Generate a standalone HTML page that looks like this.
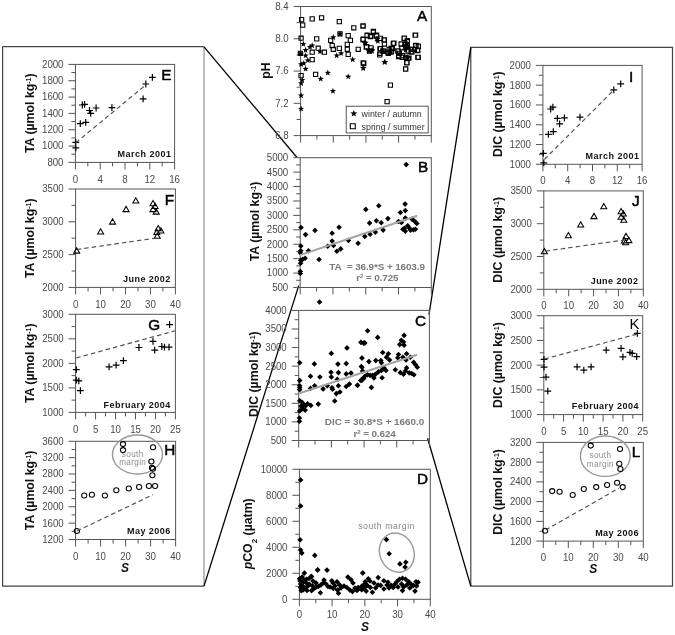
<!DOCTYPE html>
<html><head><meta charset="utf-8"><style>
html,body{margin:0;padding:0;background:#fff;}
svg{display:block;will-change:transform;}
text{font-family:"Liberation Sans", sans-serif;}
.tk{font-size:9.7px;fill:#4a4a4a;letter-spacing:-0.05px;}
.pl{fill:#000;stroke:#000;stroke-width:0.5px;}
.pk{font-size:14.8px;fill:#000;}
.dt{font-size:9px;font-weight:bold;fill:#111;letter-spacing:0.48px;}
.yt{font-weight:bold;fill:#111;}
.sm{font-size:8.2px;fill:#8c8c8c;letter-spacing:0.35px;}
.sm2{font-size:8.7px;fill:#888;letter-spacing:0.55px;}
.eq{font-size:9.9px;fill:#7a7a7a;font-weight:bold;letter-spacing:-0.1px;}
.lg{font-size:8.8px;fill:#333;}
.S{font-size:12px;font-weight:bold;font-style:italic;fill:#111;}
</style></head><body>
<svg width="675" height="635" viewBox="0 0 675 635">
<rect width="675" height="635" fill="#fff"/>
<path d="M2.6 46.6H204" stroke="#444" stroke-width="1.2" fill="none"/>
<path d="M2.6 46.6V586.1H204" stroke="#444" stroke-width="1.2" fill="none"/>
<path d="M204 46.6V586.1" stroke="#888" stroke-width="1.1" fill="none"/>
<path d="M470.8 47.4H672.5V586.1H470.8Z" stroke="#444" stroke-width="1.2" fill="none"/>
<path d="M204 46.8L297 157.5M204 586.1L298.7 285.6M470.8 47.4L429.0 314.6M470.8 586.1L427.6 438.3" stroke="#000" stroke-width="1.3" fill="none"/>
<rect x="75.4" y="64.4" width="99.19999999999999" height="98.0" fill="none" stroke="#555" stroke-width="1"/>
<text transform="translate(63.40,165.80) scale(1,1.12)" text-anchor="end" class="tk">800</text>
<text transform="translate(63.40,149.47) scale(1,1.12)" text-anchor="end" class="tk">1000</text>
<text transform="translate(63.40,133.13) scale(1,1.12)" text-anchor="end" class="tk">1200</text>
<text transform="translate(63.40,116.80) scale(1,1.12)" text-anchor="end" class="tk">1400</text>
<text transform="translate(63.40,100.47) scale(1,1.12)" text-anchor="end" class="tk">1600</text>
<text transform="translate(63.40,84.13) scale(1,1.12)" text-anchor="end" class="tk">1800</text>
<text transform="translate(63.40,67.80) scale(1,1.12)" text-anchor="end" class="tk">2000</text>
<text transform="translate(75.40,182.50) scale(1,1.12)" text-anchor="middle" class="tk">0</text>
<text transform="translate(100.20,182.50) scale(1,1.12)" text-anchor="middle" class="tk">4</text>
<text transform="translate(125.00,182.50) scale(1,1.12)" text-anchor="middle" class="tk">8</text>
<text transform="translate(149.80,182.50) scale(1,1.12)" text-anchor="middle" class="tk">12</text>
<text transform="translate(174.60,182.50) scale(1,1.12)" text-anchor="middle" class="tk">16</text>
<path d="M68.40 162.40H75.4 M71.40 154.23H75.4 M68.40 146.07H75.4 M71.40 137.90H75.4 M68.40 129.73H75.4 M71.40 121.57H75.4 M68.40 113.40H75.4 M71.40 105.23H75.4 M68.40 97.07H75.4 M71.40 88.90H75.4 M68.40 80.73H75.4 M71.40 72.57H75.4 M68.40 64.40H75.4 M75.40 162.4V169.4 M87.80 162.4V166.4 M100.20 162.4V169.4 M112.60 162.4V166.4 M125.00 162.4V169.4 M137.40 162.4V166.4 M149.80 162.4V169.4 M162.20 162.4V166.4 M174.60 162.4V169.4" stroke="#555" stroke-width="1" fill="none"/>
<path d="M72.4 142.4H79.2M75.8 139.0V145.8M72.4 147.8H79.2M75.8 144.4V151.2M76.9 123.7H83.7M80.3 120.3V127.1M82.3 122.4H89.1M85.7 119.0V125.8M79.0 105.0H85.8M82.4 101.6V108.4M81.2 104.3H88.0M84.6 100.9V107.7M86.1 110.5H92.9M89.5 107.1V113.9M87.3 113.3H94.1M90.7 109.9V116.7M92.7 108.0H99.5M96.1 104.6V111.4M108.5 107.6H115.3M111.9 104.2V111.0M139.7 98.9H146.5M143.1 95.5V102.3M142.4 84.0H149.2M145.8 80.6V87.4M149.0 77.4H155.8M152.4 74.0V80.8" stroke="#000" stroke-width="1.2" fill="none"/>
<line x1="75.8" y1="142.7" x2="146" y2="84.8" stroke="#505050" stroke-width="1.15" stroke-dasharray="4.5,3.1"/>
<text x="161.3" y="79.8" class="pl" style="font-size:15.3px">E</text>
<text x="171.39999999999998" y="157" text-anchor="end" class="dt">March 2001</text>
<text transform="translate(34.4,113.2) rotate(-90)" text-anchor="middle" class="yt" style="font-size:12.3px">TA (µmol kg<tspan baseline-shift="super" font-size="7">-1</tspan>)</text>
<rect x="75.6" y="189.0" width="99.80000000000001" height="98.39999999999998" fill="none" stroke="#555" stroke-width="1"/>
<text transform="translate(63.60,290.80) scale(1,1.12)" text-anchor="end" class="tk">2000</text>
<text transform="translate(63.60,258.00) scale(1,1.12)" text-anchor="end" class="tk">2500</text>
<text transform="translate(63.60,225.20) scale(1,1.12)" text-anchor="end" class="tk">3000</text>
<text transform="translate(63.60,192.40) scale(1,1.12)" text-anchor="end" class="tk">3500</text>
<text transform="translate(75.60,307.50) scale(1,1.12)" text-anchor="middle" class="tk">0</text>
<text transform="translate(100.55,307.50) scale(1,1.12)" text-anchor="middle" class="tk">10</text>
<text transform="translate(125.50,307.50) scale(1,1.12)" text-anchor="middle" class="tk">20</text>
<text transform="translate(150.45,307.50) scale(1,1.12)" text-anchor="middle" class="tk">30</text>
<text transform="translate(175.40,307.50) scale(1,1.12)" text-anchor="middle" class="tk">40</text>
<path d="M68.60 287.40H75.6 M71.60 271.00H75.6 M68.60 254.60H75.6 M71.60 238.20H75.6 M68.60 221.80H75.6 M71.60 205.40H75.6 M68.60 189.00H75.6 M75.60 287.4V294.4 M88.07 287.4V291.4 M100.55 287.4V294.4 M113.03 287.4V291.4 M125.50 287.4V294.4 M137.97 287.4V291.4 M150.45 287.4V294.4 M162.93 287.4V291.4 M175.40 287.4V294.4" stroke="#555" stroke-width="1" fill="none"/>
<path d="M73.7 253.1L76.7 247.9L79.7 253.1ZM97.6 234.0L100.6 228.8L103.6 234.0ZM109.6 224.1L112.6 218.9L115.6 224.1ZM123.1 211.6L126.1 206.4L129.1 211.6ZM132.8 202.9L135.8 197.7L138.8 202.9ZM150.0 205.8L153.0 200.6L156.0 205.8ZM152.1 208.5L155.1 203.3L158.1 208.5ZM150.0 211.6L153.0 206.4L156.0 211.6ZM153.2 214.1L156.2 208.9L159.2 214.1ZM155.2 230.7L158.2 225.5L161.2 230.7ZM157.9 233.0L160.9 227.8L163.9 233.0ZM153.8 234.5L156.8 229.3L159.8 234.5ZM154.2 238.2L157.2 233.0L160.2 238.2Z" stroke="#000" stroke-width="1.05" fill="none"/>
<line x1="76.7" y1="249.5" x2="156.2" y2="238" stroke="#505050" stroke-width="1.15" stroke-dasharray="4.5,3.1"/>
<text x="164.8" y="204.5" class="pl" style="font-size:15.3px">F</text>
<text x="170.79999999999998" y="282" text-anchor="end" class="dt">June 2002</text>
<text transform="translate(34.4,238.3) rotate(-90)" text-anchor="middle" class="yt" style="font-size:12.3px">TA (µmol kg<tspan baseline-shift="super" font-size="7">-1</tspan>)</text>
<rect x="75.6" y="314.3" width="99.80000000000001" height="98.09999999999997" fill="none" stroke="#555" stroke-width="1"/>
<text transform="translate(63.60,415.80) scale(1,1.12)" text-anchor="end" class="tk">1000</text>
<text transform="translate(63.60,391.27) scale(1,1.12)" text-anchor="end" class="tk">1500</text>
<text transform="translate(63.60,366.75) scale(1,1.12)" text-anchor="end" class="tk">2000</text>
<text transform="translate(63.60,342.22) scale(1,1.12)" text-anchor="end" class="tk">2500</text>
<text transform="translate(63.60,317.70) scale(1,1.12)" text-anchor="end" class="tk">3000</text>
<text transform="translate(75.60,432.50) scale(1,1.12)" text-anchor="middle" class="tk">0</text>
<text transform="translate(95.56,432.50) scale(1,1.12)" text-anchor="middle" class="tk">5</text>
<text transform="translate(115.52,432.50) scale(1,1.12)" text-anchor="middle" class="tk">10</text>
<text transform="translate(135.48,432.50) scale(1,1.12)" text-anchor="middle" class="tk">15</text>
<text transform="translate(155.44,432.50) scale(1,1.12)" text-anchor="middle" class="tk">20</text>
<text transform="translate(175.40,432.50) scale(1,1.12)" text-anchor="middle" class="tk">25</text>
<path d="M68.60 412.40H75.6 M71.60 400.14H75.6 M68.60 387.88H75.6 M71.60 375.61H75.6 M68.60 363.35H75.6 M71.60 351.09H75.6 M68.60 338.82H75.6 M71.60 326.56H75.6 M68.60 314.30H75.6 M75.60 412.4V419.4 M85.58 412.4V416.4 M95.56 412.4V419.4 M105.54 412.4V416.4 M115.52 412.4V419.4 M125.50 412.4V416.4 M135.48 412.4V419.4 M145.46 412.4V416.4 M155.44 412.4V419.4 M165.42 412.4V416.4 M175.40 412.4V419.4" stroke="#555" stroke-width="1" fill="none"/>
<path d="M72.9 369.7H79.7M76.3 366.3V373.1M72.9 380.1H79.7M76.3 376.7V383.5M75.4 380.9H82.2M78.8 377.5V384.3M77.0 390.7H83.8M80.4 387.3V394.1M105.7 366.8H112.5M109.1 363.4V370.2M112.7 365.2H119.5M116.1 361.8V368.6M120.0 360.6H126.8M123.4 357.2V364.0M135.5 347.5H142.3M138.9 344.1V350.9M149.6 341.3H156.4M153.0 337.9V344.7M151.3 350.2H158.1M154.7 346.8V353.6M158.4 346.5H165.2M161.8 343.1V349.9M161.1 347.1H167.9M164.5 343.7V350.5M165.6 347.1H172.4M169.0 343.7V350.5M166.2 324.7H173.0M169.6 321.3V328.1" stroke="#000" stroke-width="1.2" fill="none"/>
<line x1="76.3" y1="357.9" x2="174.8" y2="330.9" stroke="#505050" stroke-width="1.15" stroke-dasharray="4.5,3.1"/>
<text x="148.2" y="329.5" class="pl" style="font-size:15.3px">G</text>
<text x="170.79999999999998" y="408" text-anchor="end" class="dt">February 2004</text>
<text transform="translate(34.4,363.3) rotate(-90)" text-anchor="middle" class="yt" style="font-size:12.3px">TA (µmol kg<tspan baseline-shift="super" font-size="7">-1</tspan>)</text>
<rect x="75.6" y="441.3" width="100.0" height="98.19999999999999" fill="none" stroke="#555" stroke-width="1"/>
<text transform="translate(63.60,542.90) scale(1,1.12)" text-anchor="end" class="tk">1200</text>
<text transform="translate(63.60,526.53) scale(1,1.12)" text-anchor="end" class="tk">1600</text>
<text transform="translate(63.60,510.17) scale(1,1.12)" text-anchor="end" class="tk">2000</text>
<text transform="translate(63.60,493.80) scale(1,1.12)" text-anchor="end" class="tk">2400</text>
<text transform="translate(63.60,477.43) scale(1,1.12)" text-anchor="end" class="tk">2800</text>
<text transform="translate(63.60,461.07) scale(1,1.12)" text-anchor="end" class="tk">3200</text>
<text transform="translate(63.60,444.70) scale(1,1.12)" text-anchor="end" class="tk">3600</text>
<text transform="translate(75.60,559.60) scale(1,1.12)" text-anchor="middle" class="tk">0</text>
<text transform="translate(100.60,559.60) scale(1,1.12)" text-anchor="middle" class="tk">10</text>
<text transform="translate(125.60,559.60) scale(1,1.12)" text-anchor="middle" class="tk">20</text>
<text transform="translate(150.60,559.60) scale(1,1.12)" text-anchor="middle" class="tk">30</text>
<text transform="translate(175.60,559.60) scale(1,1.12)" text-anchor="middle" class="tk">40</text>
<path d="M68.60 539.50H75.6 M71.60 531.32H75.6 M68.60 523.13H75.6 M71.60 514.95H75.6 M68.60 506.77H75.6 M71.60 498.58H75.6 M68.60 490.40H75.6 M71.60 482.22H75.6 M68.60 474.03H75.6 M71.60 465.85H75.6 M68.60 457.67H75.6 M71.60 449.48H75.6 M68.60 441.30H75.6 M75.60 539.5V546.5 M88.10 539.5V543.5 M100.60 539.5V546.5 M113.10 539.5V543.5 M125.60 539.5V546.5 M138.10 539.5V543.5 M150.60 539.5V546.5 M163.10 539.5V543.5 M175.60 539.5V546.5" stroke="#555" stroke-width="1" fill="none"/>
<ellipse cx="137.5" cy="454.5" rx="25" ry="19.5" stroke="#999" stroke-width="1.4" fill="none"/>
<text x="132.7" y="456.8" text-anchor="middle" class="sm">south</text>
<text x="132.7" y="465.4" text-anchor="middle" class="sm">margin</text>
<ellipse cx="76.9" cy="531" rx="2.6" ry="2.5" stroke="#000" stroke-width="1.05" fill="none"/>
<ellipse cx="84.2" cy="495.5" rx="2.6" ry="2.5" stroke="#000" stroke-width="1.05" fill="none"/>
<ellipse cx="91.9" cy="494.7" rx="2.6" ry="2.5" stroke="#000" stroke-width="1.05" fill="none"/>
<ellipse cx="104.9" cy="495.5" rx="2.6" ry="2.5" stroke="#000" stroke-width="1.05" fill="none"/>
<ellipse cx="116.3" cy="490.2" rx="2.6" ry="2.5" stroke="#000" stroke-width="1.05" fill="none"/>
<ellipse cx="128.8" cy="488.5" rx="2.6" ry="2.5" stroke="#000" stroke-width="1.05" fill="none"/>
<ellipse cx="139.1" cy="487" rx="2.6" ry="2.5" stroke="#000" stroke-width="1.05" fill="none"/>
<ellipse cx="148.9" cy="486" rx="2.6" ry="2.5" stroke="#000" stroke-width="1.05" fill="none"/>
<ellipse cx="155.1" cy="486" rx="2.6" ry="2.5" stroke="#000" stroke-width="1.05" fill="none"/>
<ellipse cx="123" cy="444.1" rx="2.6" ry="2.5" stroke="#000" stroke-width="1.05" fill="none"/>
<ellipse cx="123" cy="450.1" rx="2.6" ry="2.5" stroke="#000" stroke-width="1.05" fill="none"/>
<ellipse cx="153" cy="447.2" rx="2.6" ry="2.5" stroke="#000" stroke-width="1.05" fill="none"/>
<ellipse cx="151.4" cy="461.5" rx="2.6" ry="2.5" stroke="#000" stroke-width="1.05" fill="none"/>
<ellipse cx="152" cy="467.8" rx="2.6" ry="2.5" stroke="#000" stroke-width="1.05" fill="none"/>
<ellipse cx="153" cy="468.8" rx="2.6" ry="2.5" stroke="#000" stroke-width="1.05" fill="none"/>
<ellipse cx="152.4" cy="475.2" rx="2.6" ry="2.5" stroke="#000" stroke-width="1.05" fill="none"/>
<line x1="76.9" y1="531" x2="153" y2="494.7" stroke="#505050" stroke-width="1.15" stroke-dasharray="4.5,3.1"/>
<text x="164.2" y="454.8" class="pl" style="font-size:15.3px">H</text>
<text x="170.79999999999998" y="534.1" text-anchor="end" class="dt">May 2006</text>
<text transform="translate(34.4,490.4) rotate(-90)" text-anchor="middle" class="yt" style="font-size:12.3px">TA (µmol kg<tspan baseline-shift="super" font-size="7">-1</tspan>)</text>
<text x="125" y="571.5" text-anchor="middle" class="S">S</text>
<rect x="300.6" y="6.5" width="130.7" height="129.1" fill="none" stroke="#555" stroke-width="1"/>
<text transform="translate(288.60,139.00) scale(1,1.12)" text-anchor="end" class="tk">6.8</text>
<text transform="translate(288.60,106.72) scale(1,1.12)" text-anchor="end" class="tk">7.2</text>
<text transform="translate(288.60,74.45) scale(1,1.12)" text-anchor="end" class="tk">7.6</text>
<text transform="translate(288.60,42.18) scale(1,1.12)" text-anchor="end" class="tk">8.0</text>
<text transform="translate(288.60,9.90) scale(1,1.12)" text-anchor="end" class="tk">8.4</text>
<path d="M293.60 135.60H300.6 M296.60 119.46H300.6 M293.60 103.32H300.6 M296.60 87.19H300.6 M293.60 71.05H300.6 M296.60 54.91H300.6 M293.60 38.78H300.6 M296.60 22.64H300.6 M293.60 6.50H300.6 M300.60 135.6V142.6 M316.94 135.6V139.6 M333.28 135.6V142.6 M349.61 135.6V139.6 M365.95 135.6V142.6 M382.29 135.6V139.6 M398.62 135.6V142.6 M414.96 135.6V139.6 M431.30 135.6V142.6" stroke="#555" stroke-width="1" fill="none"/>
<path d="M299.5 17.5h4.2v4.2h-4.2ZM300.6 23.0h4.2v4.2h-4.2ZM310.1 16.8h4.2v4.2h-4.2ZM319.5 15.7h4.2v4.2h-4.2ZM337.2 19.5h4.2v4.2h-4.2ZM351.7 25.7h4.2v4.2h-4.2ZM360.8 24.1h4.2v4.2h-4.2ZM299.0 36.1h4.2v4.2h-4.2ZM314.6 36.8h4.2v4.2h-4.2ZM337.9 31.7h4.2v4.2h-4.2ZM346.1 33.5h4.2v4.2h-4.2ZM348.3 38.3h4.2v4.2h-4.2ZM328.6 38.3h4.2v4.2h-4.2ZM330.1 43.5h4.2v4.2h-4.2ZM331.2 47.2h4.2v4.2h-4.2ZM316.1 46.1h4.2v4.2h-4.2ZM310.1 50.1h4.2v4.2h-4.2ZM322.3 50.1h4.2v4.2h-4.2ZM337.2 46.3h4.2v4.2h-4.2ZM345.2 42.3h4.2v4.2h-4.2ZM345.2 47.2h4.2v4.2h-4.2ZM346.1 52.3h4.2v4.2h-4.2ZM356.1 47.2h4.2v4.2h-4.2ZM360.8 37.5h4.2v4.2h-4.2ZM365.0 33.5h4.2v4.2h-4.2ZM368.3 34.6h4.2v4.2h-4.2ZM371.2 30.1h4.2v4.2h-4.2ZM374.6 33.9h4.2v4.2h-4.2ZM364.6 44.6h4.2v4.2h-4.2ZM369.0 45.7h4.2v4.2h-4.2ZM377.9 46.8h4.2v4.2h-4.2ZM381.9 37.9h4.2v4.2h-4.2ZM382.3 41.9h4.2v4.2h-4.2ZM377.9 51.2h4.2v4.2h-4.2ZM381.2 49.0h4.2v4.2h-4.2ZM385.7 50.1h4.2v4.2h-4.2ZM389.0 46.3h4.2v4.2h-4.2ZM391.2 41.2h4.2v4.2h-4.2ZM396.1 49.0h4.2v4.2h-4.2ZM396.8 53.5h4.2v4.2h-4.2ZM399.0 41.9h4.2v4.2h-4.2ZM402.3 36.1h4.2v4.2h-4.2ZM403.5 42.3h4.2v4.2h-4.2ZM405.2 39.7h4.2v4.2h-4.2ZM400.1 55.2h4.2v4.2h-4.2ZM406.1 56.1h4.2v4.2h-4.2ZM404.6 60.6h4.2v4.2h-4.2ZM403.5 66.8h4.2v4.2h-4.2ZM409.0 50.1h4.2v4.2h-4.2ZM413.5 33.0h4.2v4.2h-4.2ZM413.5 43.5h4.2v4.2h-4.2ZM415.7 48.6h4.2v4.2h-4.2ZM416.3 44.1h4.2v4.2h-4.2ZM415.7 55.2h4.2v4.2h-4.2ZM310.1 57.5h4.2v4.2h-4.2ZM313.5 72.3h4.2v4.2h-4.2ZM299.0 73.5h4.2v4.2h-4.2ZM361.7 61.2h4.2v4.2h-4.2ZM388.3 83.0h4.2v4.2h-4.2ZM385.0 99.5h4.2v4.2h-4.2ZM298.3 51.2h4.2v4.2h-4.2ZM402.0 36.3h4.2v4.2h-4.2ZM405.2 38.6h4.2v4.2h-4.2ZM402.8 41.8h4.2v4.2h-4.2ZM405.2 43.4h4.2v4.2h-4.2ZM399.7 45.7h4.2v4.2h-4.2ZM395.7 48.9h4.2v4.2h-4.2ZM397.3 51.3h4.2v4.2h-4.2ZM396.5 54.4h4.2v4.2h-4.2ZM400.5 53.6h4.2v4.2h-4.2ZM403.6 55.2h4.2v4.2h-4.2ZM406.8 56.0h4.2v4.2h-4.2ZM406.0 48.9h4.2v4.2h-4.2ZM409.9 49.7h4.2v4.2h-4.2ZM412.3 47.3h4.2v4.2h-4.2ZM413.9 43.4h4.2v4.2h-4.2ZM416.2 44.2h4.2v4.2h-4.2ZM415.4 48.1h4.2v4.2h-4.2ZM416.2 55.2h4.2v4.2h-4.2ZM413.1 33.1h4.2v4.2h-4.2ZM404.9 60.7h4.2v4.2h-4.2ZM403.6 67.0h4.2v4.2h-4.2ZM409.1 47.3h4.2v4.2h-4.2ZM391.8 41.0h4.2v4.2h-4.2ZM378.4 46.5h4.2v4.2h-4.2ZM377.6 52.8h4.2v4.2h-4.2ZM380.8 48.9h4.2v4.2h-4.2ZM382.3 41.8h4.2v4.2h-4.2ZM382.3 37.9h4.2v4.2h-4.2ZM387.1 47.3h4.2v4.2h-4.2ZM389.4 49.7h4.2v4.2h-4.2ZM386.3 51.3h4.2v4.2h-4.2ZM390.2 46.5h4.2v4.2h-4.2ZM361.1 37.1h4.2v4.2h-4.2ZM365.0 33.1h4.2v4.2h-4.2ZM371.3 29.2h4.2v4.2h-4.2ZM368.9 33.9h4.2v4.2h-4.2ZM374.5 33.1h4.2v4.2h-4.2ZM364.2 44.9h4.2v4.2h-4.2ZM367.4 48.9h4.2v4.2h-4.2ZM378.4 36.3h4.2v4.2h-4.2ZM361.1 23.7h4.2v4.2h-4.2ZM361.1 60.7h4.2v4.2h-4.2Z" stroke="#000" stroke-width="1.1" fill="none"/>
<path d="M303.30 40.70L304.11 42.88L306.44 42.98L304.62 44.43L305.24 46.67L303.30 45.39L301.36 46.67L301.98 44.43L300.16 42.98L302.49 42.88ZM310.00 43.80L310.81 45.98L313.14 46.08L311.32 47.53L311.94 49.77L310.00 48.49L308.06 49.77L308.68 47.53L306.86 46.08L309.19 45.98ZM312.20 42.30L313.01 44.48L315.34 44.58L313.52 46.03L314.14 48.27L312.20 46.99L310.26 48.27L310.88 46.03L309.06 44.58L311.39 44.48ZM305.60 46.70L306.41 48.88L308.74 48.98L306.92 50.43L307.54 52.67L305.60 51.39L303.66 52.67L304.28 50.43L302.46 48.98L304.79 48.88ZM300.40 50.00L301.21 52.18L303.54 52.28L301.72 53.73L302.34 55.97L300.40 54.69L298.46 55.97L299.08 53.73L297.26 52.28L299.59 52.18ZM305.60 52.30L306.41 54.48L308.74 54.58L306.92 56.03L307.54 58.27L305.60 56.99L303.66 58.27L304.28 56.03L302.46 54.58L304.79 54.48ZM307.80 57.10L308.61 59.28L310.94 59.38L309.12 60.83L309.74 63.07L307.80 61.79L305.86 63.07L306.48 60.83L304.66 59.38L306.99 59.28ZM301.10 61.10L301.91 63.28L304.24 63.38L302.42 64.83L303.04 67.07L301.10 65.79L299.16 67.07L299.78 64.83L297.96 63.38L300.29 63.28ZM303.80 60.00L304.61 62.18L306.94 62.28L305.12 63.73L305.74 65.97L303.80 64.69L301.86 65.97L302.48 63.73L300.66 62.28L302.99 62.18ZM305.60 65.60L306.41 67.78L308.74 67.88L306.92 69.33L307.54 71.57L305.60 70.29L303.66 71.57L304.28 69.33L302.46 67.88L304.79 67.78ZM302.20 76.70L303.01 78.88L305.34 78.98L303.52 80.43L304.14 82.67L302.20 81.39L300.26 82.67L300.88 80.43L299.06 78.98L301.39 78.88ZM301.10 80.00L301.91 82.18L304.24 82.28L302.42 83.73L303.04 85.97L301.10 84.69L299.16 85.97L299.78 83.73L297.96 82.28L300.29 82.18ZM301.10 92.30L301.91 94.48L304.24 94.58L302.42 96.03L303.04 98.27L301.10 96.99L299.16 98.27L299.78 96.03L297.96 94.58L300.29 94.48ZM301.10 105.60L301.91 107.78L304.24 107.88L302.42 109.33L303.04 111.57L301.10 110.29L299.16 111.57L299.78 109.33L297.96 107.88L300.29 107.78ZM320.00 48.30L320.81 50.48L323.14 50.58L321.32 52.03L321.94 54.27L320.00 52.99L318.06 54.27L318.68 52.03L316.86 50.58L319.19 50.48ZM320.70 75.60L321.51 77.78L323.84 77.88L322.02 79.33L322.64 81.57L320.70 80.29L318.76 81.57L319.38 79.33L317.56 77.88L319.89 77.78ZM327.80 69.60L328.61 71.78L330.94 71.88L329.12 73.33L329.74 75.57L327.80 74.29L325.86 75.57L326.48 73.33L324.66 71.88L326.99 71.78ZM332.90 87.80L333.71 89.98L336.04 90.08L334.22 91.53L334.84 93.77L332.90 92.49L330.96 93.77L331.58 91.53L329.76 90.08L332.09 89.98ZM333.30 34.00L334.11 36.18L336.44 36.28L334.62 37.73L335.24 39.97L333.30 38.69L331.36 39.97L331.98 37.73L330.16 36.28L332.49 36.18ZM336.70 52.30L337.51 54.48L339.84 54.58L338.02 56.03L338.64 58.27L336.70 56.99L334.76 58.27L335.38 56.03L333.56 54.58L335.89 54.48ZM341.10 50.00L341.91 52.18L344.24 52.28L342.42 53.73L343.04 55.97L341.10 54.69L339.16 55.97L339.78 53.73L337.96 52.28L340.29 52.18ZM340.00 30.50L340.81 32.68L343.14 32.78L341.32 34.23L341.94 36.47L340.00 35.19L338.06 36.47L338.68 34.23L336.86 32.78L339.19 32.68ZM348.20 73.40L349.01 75.58L351.34 75.68L349.52 77.13L350.14 79.37L348.20 78.09L346.26 79.37L346.88 77.13L345.06 75.68L347.39 75.58ZM352.70 56.30L353.51 58.48L355.84 58.58L354.02 60.03L354.64 62.27L352.70 60.99L350.76 62.27L351.38 60.03L349.56 58.58L351.89 58.48ZM363.30 64.50L364.11 66.68L366.44 66.78L364.62 68.23L365.24 70.47L363.30 69.19L361.36 70.47L361.98 68.23L360.16 66.78L362.49 66.68ZM365.60 39.40L366.41 41.58L368.74 41.68L366.92 43.13L367.54 45.37L365.60 44.09L363.66 45.37L364.28 43.13L362.46 41.68L364.79 41.58ZM368.90 47.80L369.71 49.98L372.04 50.08L370.22 51.53L370.84 53.77L368.90 52.49L366.96 53.77L367.58 51.53L365.76 50.08L368.09 49.98ZM372.20 46.70L373.01 48.88L375.34 48.98L373.52 50.43L374.14 52.67L372.20 51.39L370.26 52.67L370.88 50.43L369.06 48.98L371.39 48.88ZM376.70 35.60L377.51 37.78L379.84 37.88L378.02 39.33L378.64 41.57L376.70 40.29L374.76 41.57L375.38 39.33L373.56 37.88L375.89 37.78ZM377.80 37.80L378.61 39.98L380.94 40.08L379.12 41.53L379.74 43.77L377.80 42.49L375.86 43.77L376.48 41.53L374.66 40.08L376.99 39.98ZM385.10 58.90L385.91 61.08L388.24 61.18L386.42 62.63L387.04 64.87L385.10 63.59L383.16 64.87L383.78 62.63L381.96 61.18L384.29 61.08ZM388.90 50.00L389.71 52.18L392.04 52.28L390.22 53.73L390.84 55.97L388.90 54.69L386.96 55.97L387.58 53.73L385.76 52.28L388.09 52.18ZM404.40 43.40L405.21 45.58L407.54 45.68L405.72 47.13L406.34 49.37L404.40 48.09L402.46 49.37L403.08 47.13L401.26 45.68L403.59 45.58ZM406.70 42.30L407.51 44.48L409.84 44.58L408.02 46.03L408.64 48.27L406.70 46.99L404.76 48.27L405.38 46.03L403.56 44.58L405.89 44.48ZM407.80 54.50L408.61 56.68L410.94 56.78L409.12 58.23L409.74 60.47L407.80 59.19L405.86 60.47L406.48 58.23L404.66 56.78L406.99 56.68ZM405.60 46.70L406.41 48.88L408.74 48.98L406.92 50.43L407.54 52.67L405.60 51.39L403.66 52.67L404.28 50.43L402.46 48.98L404.79 48.88ZM408.90 44.50L409.71 46.68L412.04 46.78L410.22 48.23L410.84 50.47L408.90 49.19L406.96 50.47L407.58 48.23L405.76 46.78L408.09 46.68ZM364.70 39.80L365.51 41.98L367.84 42.08L366.02 43.53L366.64 45.77L364.70 44.49L362.76 45.77L363.38 43.53L361.56 42.08L363.89 41.98ZM371.80 47.70L372.61 49.88L374.94 49.98L373.12 51.43L373.74 53.67L371.80 52.39L369.86 53.67L370.48 51.43L368.66 49.98L370.99 49.88ZM368.70 46.90L369.51 49.08L371.84 49.18L370.02 50.63L370.64 52.87L368.70 51.59L366.76 52.87L367.38 50.63L365.56 49.18L367.89 49.08ZM377.30 35.90L378.11 38.08L380.44 38.18L378.62 39.63L379.24 41.87L377.30 40.59L375.36 41.87L375.98 39.63L374.16 38.18L376.49 38.08ZM384.40 58.70L385.21 60.88L387.54 60.98L385.72 62.43L386.34 64.67L384.40 63.39L382.46 64.67L383.08 62.43L381.26 60.98L383.59 60.88ZM363.20 65.00L364.01 67.18L366.34 67.28L364.52 68.73L365.14 70.97L363.20 69.69L361.26 70.97L361.88 68.73L360.06 67.28L362.39 67.18ZM405.70 43.70L406.51 45.88L408.84 45.98L407.02 47.43L407.64 49.67L405.70 48.39L403.76 49.67L404.38 47.43L402.56 45.98L404.89 45.88ZM406.50 39.80L407.31 41.98L409.64 42.08L407.82 43.53L408.44 45.77L406.50 44.49L404.56 45.77L405.18 43.53L403.36 42.08L405.69 41.98ZM407.30 54.00L408.11 56.18L410.44 56.28L408.62 57.73L409.24 59.97L407.30 58.69L405.36 59.97L405.98 57.73L404.16 56.28L406.49 56.18ZM390.70 49.30L391.51 51.48L393.84 51.58L392.02 53.03L392.64 55.27L390.70 53.99L388.76 55.27L389.38 53.03L387.56 51.58L389.89 51.48ZM383.60 48.50L384.41 50.68L386.74 50.78L384.92 52.23L385.54 54.47L383.60 53.19L381.66 54.47L382.28 52.23L380.46 50.78L382.79 50.68Z" fill="#000"/>
<rect x="346.2" y="106.2" width="82" height="26.7" fill="#fff" stroke="#444" stroke-width="0.9"/>
<path d="M353.80 109.90L354.71 112.34L357.32 112.46L355.28 114.08L355.97 116.59L353.80 115.15L351.63 116.59L352.32 114.08L350.28 112.46L352.89 112.34Z" fill="#000"/>
<path d="M350.3 123.8h5.0v5.0h-5.0Z" stroke="#000" stroke-width="1.1" fill="none"/>
<text x="361.6" y="117" class="lg">winter / autumn</text>
<text x="361.6" y="129.5" class="lg">spring / summer</text>
<text x="417.0" y="20.8" class="pl" style="font-size:15.3px">A</text>
<text transform="translate(270,70.5) rotate(-90)" text-anchor="middle" class="yt" style="font-size:12.3px">pH</text>
<rect x="300.2" y="157.7" width="131.10000000000002" height="129.8" fill="none" stroke="#555" stroke-width="1"/>
<text transform="translate(288.20,290.90) scale(1,1.12)" text-anchor="end" class="tk">500</text>
<text transform="translate(288.20,276.48) scale(1,1.12)" text-anchor="end" class="tk">1000</text>
<text transform="translate(288.20,262.06) scale(1,1.12)" text-anchor="end" class="tk">1500</text>
<text transform="translate(288.20,247.63) scale(1,1.12)" text-anchor="end" class="tk">2000</text>
<text transform="translate(288.20,233.21) scale(1,1.12)" text-anchor="end" class="tk">2500</text>
<text transform="translate(288.20,218.79) scale(1,1.12)" text-anchor="end" class="tk">3000</text>
<text transform="translate(288.20,204.37) scale(1,1.12)" text-anchor="end" class="tk">3500</text>
<text transform="translate(288.20,189.94) scale(1,1.12)" text-anchor="end" class="tk">4000</text>
<text transform="translate(288.20,175.52) scale(1,1.12)" text-anchor="end" class="tk">4500</text>
<text transform="translate(288.20,161.10) scale(1,1.12)" text-anchor="end" class="tk">5000</text>
<path d="M293.20 287.50H300.2 M296.20 280.29H300.2 M293.20 273.08H300.2 M296.20 265.87H300.2 M293.20 258.66H300.2 M296.20 251.44H300.2 M293.20 244.23H300.2 M296.20 237.02H300.2 M293.20 229.81H300.2 M296.20 222.60H300.2 M293.20 215.39H300.2 M296.20 208.18H300.2 M293.20 200.97H300.2 M296.20 193.76H300.2 M293.20 186.54H300.2 M296.20 179.33H300.2 M293.20 172.12H300.2 M296.20 164.91H300.2 M293.20 157.70H300.2 M300.20 287.5V294.5 M316.59 287.5V291.5 M332.98 287.5V294.5 M349.36 287.5V291.5 M365.75 287.5V294.5 M382.14 287.5V291.5 M398.52 287.5V294.5 M414.91 287.5V291.5 M431.30 287.5V294.5" stroke="#555" stroke-width="1" fill="none"/>
<path d="M406.2 161.8L409.0 164.6L406.2 167.4L403.4 164.6ZM319.5 299.2L322.3 302.0L319.5 304.8L316.7 302.0ZM301.0 224.7L303.8 227.5L301.0 230.3L298.2 227.5ZM305.6 231.8L308.4 234.6L305.6 237.4L302.8 234.6ZM315.0 227.6L317.8 230.4L315.0 233.2L312.2 230.4ZM339.1 224.4L341.9 227.2L339.1 230.0L336.3 227.2ZM332.1 230.5L334.9 233.3L332.1 236.1L329.3 233.3ZM332.1 238.2L334.9 241.0L332.1 243.8L329.3 241.0ZM333.5 242.7L336.3 245.5L333.5 248.3L330.7 245.5ZM327.7 243.4L330.5 246.2L327.7 249.0L324.9 246.2ZM336.9 248.5L339.7 251.3L336.9 254.1L334.1 251.3ZM340.7 246.1L343.5 248.9L340.7 251.7L337.9 248.9ZM348.4 237.6L351.2 240.4L348.4 243.2L345.6 240.4ZM358.1 240.5L360.9 243.3L358.1 246.1L355.3 243.3ZM300.8 243.2L303.6 246.0L300.8 248.8L298.0 246.0ZM300.8 248.0L303.6 250.8L300.8 253.6L298.0 250.8ZM300.3 249.9L303.1 252.7L300.3 255.5L297.5 252.7ZM308.5 248.0L311.3 250.8L308.5 253.6L305.7 250.8ZM305.1 255.5L307.9 258.3L305.1 261.1L302.3 258.3ZM302.7 256.5L305.5 259.3L302.7 262.1L299.9 259.3ZM300.8 257.6L303.6 260.4L300.8 263.2L298.0 260.4ZM300.6 260.5L303.4 263.3L300.6 266.1L297.8 263.3ZM300.3 268.7L303.1 271.5L300.3 274.3L297.5 271.5ZM300.3 270.6L303.1 273.4L300.3 276.2L297.5 273.4ZM319.1 256.7L321.9 259.5L319.1 262.3L316.3 259.5ZM365.8 206.6L368.6 209.4L365.8 212.2L363.0 209.4ZM378.8 203.0L381.6 205.8L378.8 208.6L376.0 205.8ZM405.1 201.3L407.9 204.1L405.1 206.9L402.3 204.1ZM400.4 209.7L403.2 212.5L400.4 215.3L397.6 212.5ZM405.3 207.8L408.1 210.6L405.3 213.4L402.5 210.6ZM387.9 215.8L390.7 218.6L387.9 221.4L385.1 218.6ZM369.6 220.3L372.4 223.1L369.6 225.9L366.8 223.1ZM376.4 218.0L379.2 220.8L376.4 223.6L373.6 220.8ZM381.2 219.9L384.0 222.7L381.2 225.5L378.4 222.7ZM383.1 227.3L385.9 230.1L383.1 232.9L380.3 230.1ZM364.8 233.6L367.6 236.4L364.8 239.2L362.0 236.4ZM370.1 231.5L372.9 234.3L370.1 237.1L367.3 234.3ZM375.4 229.3L378.2 232.1L375.4 234.9L372.6 232.1ZM398.5 218.7L401.3 221.5L398.5 224.3L395.7 221.5ZM401.4 219.6L404.2 222.4L401.4 225.2L398.6 222.4ZM405.3 215.3L408.1 218.1L405.3 220.9L402.5 218.1ZM412.0 216.3L414.8 219.1L412.0 221.9L409.2 219.1ZM414.4 218.2L417.2 221.0L414.4 223.8L411.6 221.0ZM416.8 220.6L419.6 223.4L416.8 226.2L414.0 223.4ZM404.3 225.4L407.1 228.2L404.3 231.0L401.5 228.2ZM405.3 228.3L408.1 231.1L405.3 233.9L402.5 231.1ZM407.7 223.0L410.5 225.8L407.7 228.6L404.9 225.8ZM410.6 227.3L413.4 230.1L410.6 232.9L407.8 230.1ZM413.4 226.9L416.2 229.7L413.4 232.5L410.6 229.7ZM415.4 226.4L418.2 229.2L415.4 232.0L412.6 229.2ZM402.9 226.4L405.7 229.2L402.9 232.0L400.1 229.2ZM409.1 224.9L411.9 227.7L409.1 230.5L406.3 227.7Z" fill="#000"/>
<line x1="299.9" y1="255.1" x2="417.1" y2="215.7" stroke="#a3a3a3" stroke-width="2"/>
<text x="424.8" y="269.9" text-anchor="end" class="eq">TA&#160; = 36.9*S + 1603.9</text>
<text x="377.4" y="280.6" text-anchor="middle" class="eq">r<tspan baseline-shift="super" font-size="6">2</tspan> = 0.725</text>
<text x="417.9" y="171.9" class="pl" style="font-size:15.3px">B</text>
<text transform="translate(259.1,221.5) rotate(-90)" text-anchor="middle" class="yt" style="font-size:12.3px">TA (µmol kg<tspan baseline-shift="super" font-size="7">-1</tspan>)</text>
<rect x="298.7" y="310.4" width="130.7" height="130.10000000000002" fill="none" stroke="#555" stroke-width="1"/>
<text transform="translate(286.70,443.90) scale(1,1.12)" text-anchor="end" class="tk">500</text>
<text transform="translate(286.70,425.31) scale(1,1.12)" text-anchor="end" class="tk">1000</text>
<text transform="translate(286.70,406.73) scale(1,1.12)" text-anchor="end" class="tk">1500</text>
<text transform="translate(286.70,388.14) scale(1,1.12)" text-anchor="end" class="tk">2000</text>
<text transform="translate(286.70,369.56) scale(1,1.12)" text-anchor="end" class="tk">2500</text>
<text transform="translate(286.70,350.97) scale(1,1.12)" text-anchor="end" class="tk">3000</text>
<text transform="translate(286.70,332.39) scale(1,1.12)" text-anchor="end" class="tk">3500</text>
<text transform="translate(286.70,313.80) scale(1,1.12)" text-anchor="end" class="tk">4000</text>
<path d="M291.70 440.50H298.7 M294.70 431.21H298.7 M291.70 421.91H298.7 M294.70 412.62H298.7 M291.70 403.33H298.7 M294.70 394.04H298.7 M291.70 384.74H298.7 M294.70 375.45H298.7 M291.70 366.16H298.7 M294.70 356.86H298.7 M291.70 347.57H298.7 M294.70 338.28H298.7 M291.70 328.99H298.7 M294.70 319.69H298.7 M291.70 310.40H298.7 M298.70 440.5V447.5 M315.04 440.5V444.5 M331.38 440.5V447.5 M347.71 440.5V444.5 M364.05 440.5V447.5 M380.39 440.5V444.5 M396.72 440.5V447.5 M413.06 440.5V444.5 M429.40 440.5V447.5" stroke="#555" stroke-width="1" fill="none"/>
<path d="M299.7 360.0L302.5 362.8L299.7 365.6L296.9 362.8ZM314.4 361.1L317.2 363.9L314.4 366.7L311.6 363.9ZM331.3 350.6L334.1 353.4L331.3 356.2L328.5 353.4ZM347.0 345.1L349.8 347.9L347.0 350.7L344.2 347.9ZM360.9 339.5L363.7 342.3L360.9 345.1L358.1 342.3ZM363.6 340.3L366.4 343.1L363.6 345.9L360.8 343.1ZM337.9 361.3L340.7 364.1L337.9 366.9L335.1 364.1ZM346.2 360.8L349.0 363.6L346.2 366.4L343.4 363.6ZM362.0 355.3L364.8 358.1L362.0 360.9L359.2 358.1ZM362.0 364.5L364.8 367.3L362.0 370.1L359.2 367.3ZM299.7 377.7L302.5 380.5L299.7 383.3L296.9 380.5ZM299.7 382.9L302.5 385.7L299.7 388.5L296.9 385.7ZM299.7 384.9L302.5 387.7L299.7 390.5L296.9 387.7ZM299.7 386.8L302.5 389.6L299.7 392.4L296.9 389.6ZM310.5 373.4L313.3 376.2L310.5 379.0L307.7 376.2ZM319.9 374.2L322.7 377.0L319.9 379.8L317.1 377.0ZM331.0 369.5L333.8 372.3L331.0 375.1L328.2 372.3ZM338.4 369.8L341.2 372.6L338.4 375.4L335.6 372.6ZM331.3 374.2L334.1 377.0L331.3 379.8L328.5 377.0ZM346.2 371.1L349.0 373.9L346.2 376.7L343.4 373.9ZM351.0 370.3L353.8 373.1L351.0 375.9L348.2 373.1ZM337.3 376.6L340.1 379.4L337.3 382.2L334.5 379.4ZM314.7 382.9L317.5 385.7L314.7 388.5L311.9 385.7ZM310.5 385.6L313.3 388.4L310.5 391.2L307.7 388.4ZM323.1 386.1L325.9 388.9L323.1 391.7L320.3 388.9ZM327.3 382.9L330.1 385.7L327.3 388.5L324.5 385.7ZM332.0 384.9L334.8 387.7L332.0 390.5L329.2 387.7ZM332.5 386.5L335.3 389.3L332.5 392.1L329.7 389.3ZM338.4 382.9L341.2 385.7L338.4 388.5L335.6 385.7ZM346.2 383.7L349.0 386.5L346.2 389.3L343.4 386.5ZM349.4 381.3L352.2 384.1L349.4 386.9L346.6 384.1ZM357.7 382.4L360.5 385.2L357.7 388.0L354.9 385.2ZM362.0 377.4L364.8 380.2L362.0 383.0L359.2 380.2ZM363.6 375.8L366.4 378.6L363.6 381.4L360.8 378.6ZM336.3 390.8L339.1 393.6L336.3 396.4L333.5 393.6ZM339.9 389.2L342.7 392.0L339.9 394.8L337.1 392.0ZM334.7 398.2L337.5 401.0L334.7 403.8L331.9 401.0ZM299.7 397.9L302.5 400.7L299.7 403.5L296.9 400.7ZM302.1 399.5L304.9 402.3L302.1 405.1L299.3 402.3ZM303.7 401.8L306.5 404.6L303.7 407.4L300.9 404.6ZM306.0 402.6L308.8 405.4L306.0 408.2L303.2 405.4ZM301.0 403.4L303.8 406.2L301.0 409.0L298.2 406.2ZM302.9 405.8L305.7 408.6L302.9 411.4L300.1 408.6ZM305.2 407.3L308.0 410.1L305.2 412.9L302.4 410.1ZM307.6 401.0L310.4 403.8L307.6 406.6L304.8 403.8ZM310.8 402.6L313.6 405.4L310.8 408.2L308.0 405.4ZM318.3 401.3L321.1 404.1L318.3 406.9L315.5 404.1ZM299.7 408.1L302.5 410.9L299.7 413.7L296.9 410.9ZM299.4 415.2L302.2 418.0L299.4 420.8L296.6 418.0ZM299.4 418.4L302.2 421.2L299.4 424.0L296.6 421.2ZM367.6 327.9L370.4 330.7L367.6 333.5L364.8 330.7ZM377.7 334.6L380.5 337.4L377.7 340.2L374.9 337.4ZM361.0 339.6L363.8 342.4L361.0 345.2L358.2 342.4ZM364.8 340.1L367.6 342.9L364.8 345.7L362.0 342.9ZM404.1 332.6L406.9 335.4L404.1 338.2L401.3 335.4ZM401.3 337.4L404.1 340.2L401.3 343.0L398.5 340.2ZM403.5 339.2L406.3 342.0L403.5 344.8L400.7 342.0ZM399.7 341.8L402.5 344.6L399.7 347.4L396.9 344.6ZM404.1 342.4L406.9 345.2L404.1 348.0L401.3 345.2ZM382.7 349.7L385.5 352.5L382.7 355.3L379.9 352.5ZM388.4 351.0L391.2 353.8L388.4 356.6L385.6 353.8ZM398.5 351.8L401.3 354.6L398.5 357.4L395.7 354.6ZM406.6 351.0L409.4 353.8L406.6 356.6L403.8 353.8ZM361.9 355.2L364.7 358.0L361.9 360.8L359.1 358.0ZM368.9 358.8L371.7 361.6L368.9 364.4L366.1 361.6ZM375.8 357.8L378.6 360.6L375.8 363.4L373.0 360.6ZM380.8 357.8L383.6 360.6L380.8 363.4L378.0 360.6ZM386.5 354.4L389.3 357.2L386.5 360.0L383.7 357.2ZM389.6 357.2L392.4 360.0L389.6 362.8L386.8 360.0ZM397.8 355.0L400.6 357.8L397.8 360.6L395.0 357.8ZM402.9 354.4L405.7 357.2L402.9 360.0L400.1 357.2ZM406.0 357.2L408.8 360.0L406.0 362.8L403.2 360.0ZM410.4 354.4L413.2 357.2L410.4 360.0L407.6 357.2ZM413.6 359.4L416.4 362.2L413.6 365.0L410.8 362.2ZM415.5 361.9L418.3 364.7L415.5 367.5L412.7 364.7ZM417.3 364.4L420.1 367.2L417.3 370.0L414.5 367.2ZM361.3 363.8L364.1 366.6L361.3 369.4L358.5 366.6ZM381.4 360.0L384.2 362.8L381.4 365.6L378.6 362.8ZM384.0 365.1L386.8 367.9L384.0 370.7L381.2 367.9ZM385.9 367.6L388.7 370.4L385.9 373.2L383.1 370.4ZM381.4 367.6L384.2 370.4L381.4 373.2L378.6 370.4ZM378.3 369.1L381.1 371.9L378.3 374.7L375.5 371.9ZM375.2 371.6L378.0 374.4L375.2 377.2L372.4 374.4ZM372.6 372.6L375.4 375.4L372.6 378.2L369.8 375.4ZM370.1 372.6L372.9 375.4L370.1 378.2L367.3 375.4ZM367.6 372.0L370.4 374.8L367.6 377.6L364.8 374.8ZM365.1 373.2L367.9 376.0L365.1 378.8L362.3 376.0ZM362.6 375.8L365.4 378.6L362.6 381.4L359.8 378.6ZM360.7 377.7L363.5 380.5L360.7 383.3L357.9 380.5ZM373.9 375.1L376.7 377.9L373.9 380.7L371.1 377.9ZM382.1 374.9L384.9 377.7L382.1 380.5L379.3 377.7ZM362.6 368.2L365.4 371.0L362.6 373.8L359.8 371.0ZM395.3 366.9L398.1 369.7L395.3 372.5L392.5 369.7ZM400.3 369.8L403.1 372.6L400.3 375.4L397.5 372.6ZM403.5 371.4L406.3 374.2L403.5 377.0L400.7 374.2ZM406.6 365.1L409.4 367.9L406.6 370.7L403.8 367.9ZM405.4 368.2L408.2 371.0L405.4 373.8L402.6 371.0ZM409.2 370.1L412.0 372.9L409.2 375.7L406.4 372.9ZM411.7 370.7L414.5 373.5L411.7 376.3L408.9 373.5ZM413.9 372.0L416.7 374.8L413.9 377.6L411.1 374.8ZM357.3 382.4L360.1 385.2L357.3 388.0L354.5 385.2ZM371.4 384.6L374.2 387.4L371.4 390.2L368.6 387.4Z" fill="#000"/>
<line x1="299.4" y1="393.3" x2="417.1" y2="354.8" stroke="#a3a3a3" stroke-width="2"/>
<text x="424.2" y="425" text-anchor="end" class="eq" style="letter-spacing:0">DIC = 30.8*S + 1660.0</text>
<text x="374.6" y="436.5" text-anchor="middle" class="eq">r<tspan baseline-shift="super" font-size="6">2</tspan> = 0.624</text>
<text x="415.1" y="326.2" class="pl" style="font-size:15.3px">C</text>
<text transform="translate(258.1,374.2) rotate(-90)" text-anchor="middle" class="yt" style="font-size:12.3px">DIC (µmol kg<tspan baseline-shift="super" font-size="7">-1</tspan>)</text>
<rect x="299.4" y="469.3" width="130.90000000000003" height="129.99999999999994" fill="none" stroke="#555" stroke-width="1"/>
<text transform="translate(287.40,602.70) scale(1,1.12)" text-anchor="end" class="tk">0</text>
<text transform="translate(287.40,576.70) scale(1,1.12)" text-anchor="end" class="tk">2000</text>
<text transform="translate(287.40,550.70) scale(1,1.12)" text-anchor="end" class="tk">4000</text>
<text transform="translate(287.40,524.70) scale(1,1.12)" text-anchor="end" class="tk">6000</text>
<text transform="translate(287.40,498.70) scale(1,1.12)" text-anchor="end" class="tk">8000</text>
<text transform="translate(287.40,472.70) scale(1,1.12)" text-anchor="end" class="tk">10000</text>
<text transform="translate(299.40,618.40) scale(1,1.12)" text-anchor="middle" class="tk">0</text>
<text transform="translate(332.12,618.40) scale(1,1.12)" text-anchor="middle" class="tk">10</text>
<text transform="translate(364.85,618.40) scale(1,1.12)" text-anchor="middle" class="tk">20</text>
<text transform="translate(397.57,618.40) scale(1,1.12)" text-anchor="middle" class="tk">30</text>
<text transform="translate(430.30,618.40) scale(1,1.12)" text-anchor="middle" class="tk">40</text>
<path d="M292.40 599.30H299.4 M295.40 586.30H299.4 M292.40 573.30H299.4 M295.40 560.30H299.4 M292.40 547.30H299.4 M295.40 534.30H299.4 M292.40 521.30H299.4 M295.40 508.30H299.4 M292.40 495.30H299.4 M295.40 482.30H299.4 M292.40 469.30H299.4 M299.40 599.3V606.3 M315.76 599.3V603.3 M332.12 599.3V606.3 M348.49 599.3V603.3 M364.85 599.3V606.3 M381.21 599.3V603.3 M397.57 599.3V606.3 M413.94 599.3V603.3 M430.30 599.3V606.3" stroke="#555" stroke-width="1" fill="none"/>
<ellipse cx="396.8" cy="552.6" rx="17" ry="20" transform="rotate(-22 396.8 552.6)" stroke="#999" stroke-width="1.4" fill="none"/>
<path d="M300.6 477.2L303.4 480.0L300.6 482.8L297.8 480.0ZM300.6 503.2L303.4 506.0L300.6 508.8L297.8 506.0ZM300.1 537.0L302.9 539.8L300.1 542.6L297.3 539.8ZM300.6 547.2L303.4 550.0L300.6 552.8L297.8 550.0ZM301.8 550.3L304.6 553.1L301.8 555.9L299.0 553.1ZM314.8 552.6L317.6 555.4L314.8 558.2L312.0 555.4ZM317.4 567.2L320.2 570.0L317.4 572.8L314.6 570.0ZM326.9 567.2L329.7 570.0L326.9 572.8L324.1 570.0ZM304.4 570.3L307.2 573.1L304.4 575.9L301.6 573.1ZM311.0 573.7L313.8 576.5L311.0 579.3L308.2 576.5ZM386.4 536.8L389.2 539.6L386.4 542.4L383.6 539.6ZM389.2 551.0L392.0 553.8L389.2 556.6L386.4 553.8ZM399.9 561.1L402.7 563.9L399.9 566.7L397.1 563.9ZM405.8 559.5L408.6 562.3L405.8 565.1L403.0 562.3ZM405.1 564.3L407.9 567.1L405.1 569.9L402.3 567.1ZM317.8 567.1L320.6 569.9L317.8 572.7L315.0 569.9ZM327.1 567.4L329.9 570.2L327.1 573.0L324.3 570.2ZM304.3 570.2L307.1 573.0L304.3 575.8L301.5 573.0ZM362.9 570.2L365.7 573.0L362.9 575.8L360.1 573.0ZM311.6 573.8L314.4 576.6L311.6 579.4L308.8 576.6ZM299.6 575.9L302.4 578.7L299.6 581.5L296.8 578.7ZM302.2 574.3L305.0 577.1L302.2 579.9L299.4 577.1ZM306.4 576.4L309.2 579.2L306.4 582.0L303.6 579.2ZM347.9 574.3L350.7 577.1L347.9 579.9L345.1 577.1ZM351.0 576.9L353.8 579.7L351.0 582.5L348.2 579.7ZM331.8 577.9L334.6 580.7L331.8 583.5L329.0 580.7ZM337.0 579.0L339.8 581.8L337.0 584.6L334.2 581.8ZM323.5 580.0L326.3 582.8L323.5 585.6L320.7 582.8ZM320.9 582.1L323.7 584.9L320.9 587.7L318.1 584.9ZM318.3 583.7L321.1 586.5L318.3 589.3L315.5 586.5ZM315.7 584.7L318.5 587.5L315.7 590.3L312.9 587.5ZM312.6 583.1L315.4 585.9L312.6 588.7L309.8 585.9ZM309.5 581.6L312.3 584.4L309.5 587.2L306.7 584.4ZM300.7 581.1L303.5 583.9L300.7 586.7L297.9 583.9ZM303.3 583.7L306.1 586.5L303.3 589.3L300.5 586.5ZM305.3 585.2L308.1 588.0L305.3 590.8L302.5 588.0ZM301.2 587.8L304.0 590.6L301.2 593.4L298.4 590.6ZM311.6 587.8L314.4 590.6L311.6 593.4L308.8 590.6ZM320.4 589.9L323.2 592.7L320.4 595.5L317.6 592.7ZM330.2 584.2L333.0 587.0L330.2 589.8L327.4 587.0ZM333.3 585.7L336.1 588.5L333.3 591.3L330.5 588.5ZM339.6 582.1L342.4 584.9L339.6 587.7L336.8 584.9ZM337.5 587.3L340.3 590.1L337.5 592.9L334.7 590.1ZM338.5 590.4L341.3 593.2L338.5 596.0L335.7 593.2ZM346.8 584.7L349.6 587.5L346.8 590.3L344.0 587.5ZM349.9 587.3L352.7 590.1L349.9 592.9L347.1 590.1ZM352.5 588.8L355.3 591.6L352.5 594.4L349.7 591.6ZM358.2 584.7L361.0 587.5L358.2 590.3L355.4 587.5ZM361.9 586.8L364.7 589.6L361.9 592.4L359.1 589.6ZM365.0 581.1L367.8 583.9L365.0 586.7L362.2 583.9ZM364.5 584.7L367.3 587.5L364.5 590.3L361.7 587.5ZM362.6 570.2L365.4 573.0L362.6 575.8L359.8 573.0ZM368.3 575.9L371.1 578.7L368.3 581.5L365.5 578.7ZM378.2 574.8L381.0 577.6L378.2 580.4L375.4 577.6ZM365.2 579.0L368.0 581.8L365.2 584.6L362.4 581.8ZM362.1 583.1L364.9 585.9L362.1 588.7L359.3 585.9ZM361.6 586.8L364.4 589.6L361.6 592.4L358.8 589.6ZM367.3 582.6L370.1 585.4L367.3 588.2L364.5 585.4ZM370.4 584.7L373.2 587.5L370.4 590.3L367.6 587.5ZM372.4 589.4L375.2 592.2L372.4 595.0L369.6 592.2ZM375.6 585.2L378.4 588.0L375.6 590.8L372.8 588.0ZM380.7 582.6L383.5 585.4L380.7 588.2L377.9 585.4ZM383.9 577.9L386.7 580.7L383.9 583.5L381.1 580.7ZM383.9 586.2L386.7 589.0L383.9 591.8L381.1 589.0ZM388.0 579.5L390.8 582.3L388.0 585.1L385.2 582.3ZM391.1 582.6L393.9 585.4L391.1 588.2L388.3 585.4ZM393.2 584.7L396.0 587.5L393.2 590.3L390.4 587.5ZM396.8 579.0L399.6 581.8L396.8 584.6L394.0 581.8ZM399.4 576.4L402.2 579.2L399.4 582.0L396.6 579.2ZM402.5 575.4L405.3 578.2L402.5 581.0L399.7 578.2ZM405.6 576.4L408.4 579.2L405.6 582.0L402.8 579.2ZM401.5 581.1L404.3 583.9L401.5 586.7L398.7 583.9ZM403.6 584.2L406.4 587.0L403.6 589.8L400.8 587.0ZM402.5 587.8L405.3 590.6L402.5 593.4L399.7 590.6ZM406.7 582.1L409.5 584.9L406.7 587.7L403.9 584.9ZM408.8 579.0L411.6 581.8L408.8 584.6L406.0 581.8ZM410.8 581.1L413.6 583.9L410.8 586.7L408.0 583.9ZM413.4 582.6L416.2 585.4L413.4 588.2L410.6 585.4ZM416.0 579.0L418.8 581.8L416.0 584.6L413.2 581.8ZM418.1 579.5L420.9 582.3L418.1 585.1L415.3 582.3ZM416.5 583.1L419.3 585.9L416.5 588.7L413.7 585.9ZM415.0 588.3L417.8 591.1L415.0 593.9L412.2 591.1ZM409.8 585.2L412.6 588.0L409.8 590.8L407.0 588.0ZM366.2 588.3L369.0 591.1L366.2 593.9L363.4 591.1ZM300.0 578.2L302.8 581.0L300.0 583.8L297.2 581.0ZM302.0 580.7L304.8 583.5L302.0 586.3L299.2 583.5ZM304.0 577.7L306.8 580.5L304.0 583.3L301.2 580.5ZM306.5 580.2L309.3 583.0L306.5 585.8L303.7 583.0ZM308.0 583.2L310.8 586.0L308.0 588.8L305.2 586.0ZM300.5 584.7L303.3 587.5L300.5 590.3L297.7 587.5ZM303.0 587.2L305.8 590.0L303.0 592.8L300.2 590.0ZM307.0 587.7L309.8 590.5L307.0 593.3L304.2 590.5ZM309.0 575.7L311.8 578.5L309.0 581.3L306.2 578.5ZM313.0 578.2L315.8 581.0L313.0 583.8L310.2 581.0ZM316.0 580.2L318.8 583.0L316.0 585.8L313.2 583.0ZM313.5 586.2L316.3 589.0L313.5 591.8L310.7 589.0ZM324.0 577.2L326.8 580.0L324.0 582.8L321.2 580.0ZM326.0 581.2L328.8 584.0L326.0 586.8L323.2 584.0ZM328.0 583.7L330.8 586.5L328.0 589.3L325.2 586.5ZM333.0 580.2L335.8 583.0L333.0 585.8L330.2 583.0ZM335.0 583.2L337.8 586.0L335.0 588.8L332.2 586.0ZM341.0 585.2L343.8 588.0L341.0 590.8L338.2 588.0ZM344.0 583.2L346.8 586.0L344.0 588.8L341.2 586.0ZM355.0 585.2L357.8 588.0L355.0 590.8L352.2 588.0ZM357.0 587.7L359.8 590.5L357.0 593.3L354.2 590.5ZM353.0 580.2L355.8 583.0L353.0 585.8L350.2 583.0ZM370.0 578.2L372.8 581.0L370.0 583.8L367.2 581.0ZM374.0 580.2L376.8 583.0L374.0 585.8L371.2 583.0ZM378.0 582.2L380.8 585.0L378.0 587.8L375.2 585.0ZM387.0 582.2L389.8 585.0L387.0 587.8L384.2 585.0ZM395.0 581.2L397.8 584.0L395.0 586.8L392.2 584.0ZM398.0 584.2L400.8 587.0L398.0 589.8L395.2 587.0ZM411.0 584.2L413.8 587.0L411.0 589.8L408.2 587.0ZM389.0 585.2L391.8 588.0L389.0 590.8L386.2 588.0Z" fill="#000"/>
<text x="386.6" y="529" text-anchor="middle" class="sm2">south margin</text>
<text x="417.1" y="484.2" class="pl" style="font-size:15.3px">D</text>
<text transform="translate(251.8,533.8) rotate(-90)" text-anchor="middle" class="yt" style="font-size:12.3px"><tspan font-style="italic">p</tspan>CO<tspan baseline-shift="sub" font-size="8">2</tspan> (µatm)</text>
<text x="365" y="630.7" text-anchor="middle" class="S">S</text>
<rect x="542.9" y="65.4" width="99.20000000000005" height="98.9" fill="none" stroke="#555" stroke-width="1"/>
<text transform="translate(530.90,167.70) scale(1,1.12)" text-anchor="end" class="tk">1000</text>
<text transform="translate(530.90,147.92) scale(1,1.12)" text-anchor="end" class="tk">1200</text>
<text transform="translate(530.90,128.14) scale(1,1.12)" text-anchor="end" class="tk">1400</text>
<text transform="translate(530.90,108.36) scale(1,1.12)" text-anchor="end" class="tk">1600</text>
<text transform="translate(530.90,88.58) scale(1,1.12)" text-anchor="end" class="tk">1800</text>
<text transform="translate(530.90,68.80) scale(1,1.12)" text-anchor="end" class="tk">2000</text>
<text transform="translate(542.90,184.40) scale(1,1.12)" text-anchor="middle" class="tk">0</text>
<text transform="translate(567.70,184.40) scale(1,1.12)" text-anchor="middle" class="tk">4</text>
<text transform="translate(592.50,184.40) scale(1,1.12)" text-anchor="middle" class="tk">8</text>
<text transform="translate(617.30,184.40) scale(1,1.12)" text-anchor="middle" class="tk">12</text>
<text transform="translate(642.10,184.40) scale(1,1.12)" text-anchor="middle" class="tk">16</text>
<path d="M535.90 164.30H542.9 M538.90 154.41H542.9 M535.90 144.52H542.9 M538.90 134.63H542.9 M535.90 124.74H542.9 M538.90 114.85H542.9 M535.90 104.96H542.9 M538.90 95.07H542.9 M535.90 85.18H542.9 M538.90 75.29H542.9 M535.90 65.40H542.9 M542.90 164.3V171.3 M555.30 164.3V168.3 M567.70 164.3V171.3 M580.10 164.3V168.3 M592.50 164.3V171.3 M604.90 164.3V168.3 M617.30 164.3V171.3 M629.70 164.3V168.3 M642.10 164.3V171.3" stroke="#555" stroke-width="1" fill="none"/>
<path d="M539.9 153.4H546.7M543.3 150.0V156.8M540.4 162.8H547.2M543.8 159.4V166.2M545.0 134.3H551.8M548.4 130.9V137.7M549.9 131.7H556.7M553.3 128.3V135.1M547.3 109.0H554.1M550.7 105.6V112.4M549.5 107.2H556.3M552.9 103.8V110.6M553.9 118.3H560.7M557.3 114.9V121.7M556.2 123.9H563.0M559.6 120.5V127.3M561.0 117.9H567.8M564.4 114.5V121.3M576.6 117.2H583.4M580.0 113.8V120.6M610.4 89.9H617.2M613.8 86.5V93.3M617.3 83.9H624.1M620.7 80.5V87.3" stroke="#000" stroke-width="1.2" fill="none"/>
<line x1="544.4" y1="159.4" x2="613.3" y2="90.6" stroke="#505050" stroke-width="1.15" stroke-dasharray="4.5,3.1"/>
<text x="629.1" y="81.6" class="pl" style="font-size:15.3px">I</text>
<text x="639.4000000000001" y="159.4" text-anchor="end" class="dt">March 2001</text>
<text transform="translate(501.7,114.2) rotate(-90)" text-anchor="middle" class="yt" style="font-size:12.3px">DIC (µmol kg<tspan baseline-shift="super" font-size="7">-1</tspan>)</text>
<rect x="543.8" y="190.9" width="99.5" height="98.4" fill="none" stroke="#555" stroke-width="1"/>
<text transform="translate(531.80,292.70) scale(1,1.12)" text-anchor="end" class="tk">2000</text>
<text transform="translate(531.80,259.90) scale(1,1.12)" text-anchor="end" class="tk">2500</text>
<text transform="translate(531.80,227.10) scale(1,1.12)" text-anchor="end" class="tk">3000</text>
<text transform="translate(531.80,194.30) scale(1,1.12)" text-anchor="end" class="tk">3500</text>
<text transform="translate(543.80,309.40) scale(1,1.12)" text-anchor="middle" class="tk">0</text>
<text transform="translate(568.67,309.40) scale(1,1.12)" text-anchor="middle" class="tk">10</text>
<text transform="translate(593.55,309.40) scale(1,1.12)" text-anchor="middle" class="tk">20</text>
<text transform="translate(618.42,309.40) scale(1,1.12)" text-anchor="middle" class="tk">30</text>
<text transform="translate(643.30,309.40) scale(1,1.12)" text-anchor="middle" class="tk">40</text>
<path d="M536.80 289.30H543.8 M539.80 272.90H543.8 M536.80 256.50H543.8 M539.80 240.10H543.8 M536.80 223.70H543.8 M539.80 207.30H543.8 M536.80 190.90H543.8 M543.80 289.3V296.3 M556.24 289.3V293.3 M568.67 289.3V296.3 M581.11 289.3V293.3 M593.55 289.3V296.3 M605.99 289.3V293.3 M618.42 289.3V296.3 M630.86 289.3V293.3 M643.30 289.3V296.3" stroke="#555" stroke-width="1" fill="none"/>
<path d="M541.4 253.7L544.4 248.5L547.4 253.7ZM565.4 237.7L568.4 232.5L571.4 237.7ZM577.7 227.0L580.7 221.8L583.7 227.0ZM591.0 218.6L594.0 213.4L597.0 218.6ZM600.8 208.8L603.8 203.6L606.8 208.8ZM618.1 213.7L621.1 208.5L624.1 213.7ZM620.3 215.9L623.3 210.7L626.3 215.9ZM618.1 219.3L621.1 214.1L624.1 219.3ZM620.8 222.2L623.8 217.0L626.8 222.2ZM623.0 238.6L626.0 233.4L629.0 238.6ZM625.9 242.6L628.9 237.4L631.9 242.6ZM622.6 244.8L625.6 239.6L628.6 244.8ZM621.4 243.0L624.4 237.8L627.4 243.0Z" stroke="#000" stroke-width="1.05" fill="none"/>
<line x1="545.6" y1="251.1" x2="624.4" y2="240" stroke="#505050" stroke-width="1.15" stroke-dasharray="4.5,3.1"/>
<text x="632.1" y="205.7" class="pl" style="font-size:15.3px">J</text>
<text x="638.5" y="284" text-anchor="end" class="dt">June 2002</text>
<text transform="translate(501.7,239.8) rotate(-90)" text-anchor="middle" class="yt" style="font-size:12.3px">DIC (µmol kg<tspan baseline-shift="super" font-size="7">-1</tspan>)</text>
<rect x="543.8" y="315.7" width="98.90000000000009" height="98.90000000000003" fill="none" stroke="#555" stroke-width="1"/>
<text transform="translate(531.80,418.00) scale(1,1.12)" text-anchor="end" class="tk">1000</text>
<text transform="translate(531.80,393.27) scale(1,1.12)" text-anchor="end" class="tk">1500</text>
<text transform="translate(531.80,368.55) scale(1,1.12)" text-anchor="end" class="tk">2000</text>
<text transform="translate(531.80,343.82) scale(1,1.12)" text-anchor="end" class="tk">2500</text>
<text transform="translate(531.80,319.10) scale(1,1.12)" text-anchor="end" class="tk">3000</text>
<text transform="translate(543.80,434.70) scale(1,1.12)" text-anchor="middle" class="tk">0</text>
<text transform="translate(563.58,434.70) scale(1,1.12)" text-anchor="middle" class="tk">5</text>
<text transform="translate(583.36,434.70) scale(1,1.12)" text-anchor="middle" class="tk">10</text>
<text transform="translate(603.14,434.70) scale(1,1.12)" text-anchor="middle" class="tk">15</text>
<text transform="translate(622.92,434.70) scale(1,1.12)" text-anchor="middle" class="tk">20</text>
<text transform="translate(642.70,434.70) scale(1,1.12)" text-anchor="middle" class="tk">25</text>
<path d="M536.80 414.60H543.8 M539.80 402.24H543.8 M536.80 389.88H543.8 M539.80 377.51H543.8 M536.80 365.15H543.8 M539.80 352.79H543.8 M536.80 340.43H543.8 M539.80 328.06H543.8 M536.80 315.70H543.8 M543.80 414.6V421.6 M553.69 414.6V418.6 M563.58 414.6V421.6 M573.47 414.6V418.6 M583.36 414.6V421.6 M593.25 414.6V418.6 M603.14 414.6V421.6 M613.03 414.6V418.6 M622.92 414.6V421.6 M632.81 414.6V418.6 M642.70 414.6V421.6" stroke="#555" stroke-width="1" fill="none"/>
<path d="M540.6 359.4H547.4M544.0 356.0V362.8M540.6 367.2H547.4M544.0 363.8V370.6M542.6 377.2H549.4M546.0 373.8V380.6M544.4 391.2H551.2M547.8 387.8V394.6M573.7 366.8H580.5M577.1 363.4V370.2M580.4 370.1H587.2M583.8 366.7V373.5M587.7 366.8H594.5M591.1 363.4V370.2M602.8 350.1H609.6M606.2 346.7V353.5M617.7 348.3H624.5M621.1 344.9V351.7M619.5 356.8H626.3M622.9 353.4V360.2M626.6 352.3H633.4M630.0 348.9V355.7M628.8 353.4H635.6M632.2 350.0V356.8M633.3 356.6H640.1M636.7 353.2V360.0M633.9 333.4H640.7M637.3 330.0V336.8" stroke="#000" stroke-width="1.2" fill="none"/>
<line x1="544.4" y1="359" x2="637.8" y2="333.9" stroke="#505050" stroke-width="1.15" stroke-dasharray="4.5,3.1"/>
<text x="629.4" y="328.8" class="pk">K</text>
<text x="639.0" y="409" text-anchor="end" class="dt">February 2004</text>
<text transform="translate(501.7,365) rotate(-90)" text-anchor="middle" class="yt" style="font-size:12.3px">DIC (µmol kg<tspan baseline-shift="super" font-size="7">-1</tspan>)</text>
<rect x="543.3" y="442.4" width="100.0" height="98.70000000000005" fill="none" stroke="#555" stroke-width="1"/>
<text transform="translate(531.30,544.50) scale(1,1.12)" text-anchor="end" class="tk">1200</text>
<text transform="translate(531.30,524.76) scale(1,1.12)" text-anchor="end" class="tk">1600</text>
<text transform="translate(531.30,505.02) scale(1,1.12)" text-anchor="end" class="tk">2000</text>
<text transform="translate(531.30,485.28) scale(1,1.12)" text-anchor="end" class="tk">2400</text>
<text transform="translate(531.30,465.54) scale(1,1.12)" text-anchor="end" class="tk">2800</text>
<text transform="translate(531.30,445.80) scale(1,1.12)" text-anchor="end" class="tk">3200</text>
<text transform="translate(543.30,561.20) scale(1,1.12)" text-anchor="middle" class="tk">0</text>
<text transform="translate(568.30,561.20) scale(1,1.12)" text-anchor="middle" class="tk">10</text>
<text transform="translate(593.30,561.20) scale(1,1.12)" text-anchor="middle" class="tk">20</text>
<text transform="translate(618.30,561.20) scale(1,1.12)" text-anchor="middle" class="tk">30</text>
<text transform="translate(643.30,561.20) scale(1,1.12)" text-anchor="middle" class="tk">40</text>
<path d="M536.30 541.10H543.3 M539.30 531.23H543.3 M536.30 521.36H543.3 M539.30 511.49H543.3 M536.30 501.62H543.3 M539.30 491.75H543.3 M536.30 481.88H543.3 M539.30 472.01H543.3 M536.30 462.14H543.3 M539.30 452.27H543.3 M536.30 442.40H543.3 M543.30 541.1V548.1 M555.80 541.1V545.1 M568.30 541.1V548.1 M580.80 541.1V545.1 M593.30 541.1V548.1 M605.80 541.1V545.1 M618.30 541.1V548.1 M630.80 541.1V545.1 M643.30 541.1V548.1" stroke="#555" stroke-width="1" fill="none"/>
<ellipse cx="605.3" cy="456.2" rx="24.9" ry="20.2" stroke="#999" stroke-width="1.4" fill="none"/>
<text x="600.4" y="458.4" text-anchor="middle" class="sm">south</text>
<text x="600.4" y="467" text-anchor="middle" class="sm">margin</text>
<ellipse cx="545.1" cy="530.7" rx="2.6" ry="2.5" stroke="#000" stroke-width="1.05" fill="none"/>
<ellipse cx="552.2" cy="491.1" rx="2.6" ry="2.5" stroke="#000" stroke-width="1.05" fill="none"/>
<ellipse cx="559.6" cy="491.8" rx="2.6" ry="2.5" stroke="#000" stroke-width="1.05" fill="none"/>
<ellipse cx="572.7" cy="494.9" rx="2.6" ry="2.5" stroke="#000" stroke-width="1.05" fill="none"/>
<ellipse cx="583.8" cy="488.9" rx="2.6" ry="2.5" stroke="#000" stroke-width="1.05" fill="none"/>
<ellipse cx="596.2" cy="487.1" rx="2.6" ry="2.5" stroke="#000" stroke-width="1.05" fill="none"/>
<ellipse cx="607.1" cy="484.9" rx="2.6" ry="2.5" stroke="#000" stroke-width="1.05" fill="none"/>
<ellipse cx="617.1" cy="482.7" rx="2.6" ry="2.5" stroke="#000" stroke-width="1.05" fill="none"/>
<ellipse cx="622.7" cy="487.1" rx="2.6" ry="2.5" stroke="#000" stroke-width="1.05" fill="none"/>
<ellipse cx="590.7" cy="445.6" rx="2.6" ry="2.5" stroke="#000" stroke-width="1.05" fill="none"/>
<ellipse cx="620" cy="448.9" rx="2.6" ry="2.5" stroke="#000" stroke-width="1.05" fill="none"/>
<ellipse cx="619.3" cy="463.8" rx="2.6" ry="2.5" stroke="#000" stroke-width="1.05" fill="none"/>
<ellipse cx="620.4" cy="468.9" rx="2.6" ry="2.5" stroke="#000" stroke-width="1.05" fill="none"/>
<line x1="545.6" y1="530" x2="618.9" y2="488.2" stroke="#505050" stroke-width="1.15" stroke-dasharray="4.5,3.1"/>
<text x="631.7" y="456.8" class="pl" style="font-size:15.3px">L</text>
<text x="639.0" y="535.6" text-anchor="end" class="dt">May 2006</text>
<text transform="translate(501.7,491.9) rotate(-90)" text-anchor="middle" class="yt" style="font-size:12.3px">DIC (µmol kg<tspan baseline-shift="super" font-size="7">-1</tspan>)</text>
<text x="593.3" y="573.3" text-anchor="middle" class="S">S</text>
</svg>
</body></html>
